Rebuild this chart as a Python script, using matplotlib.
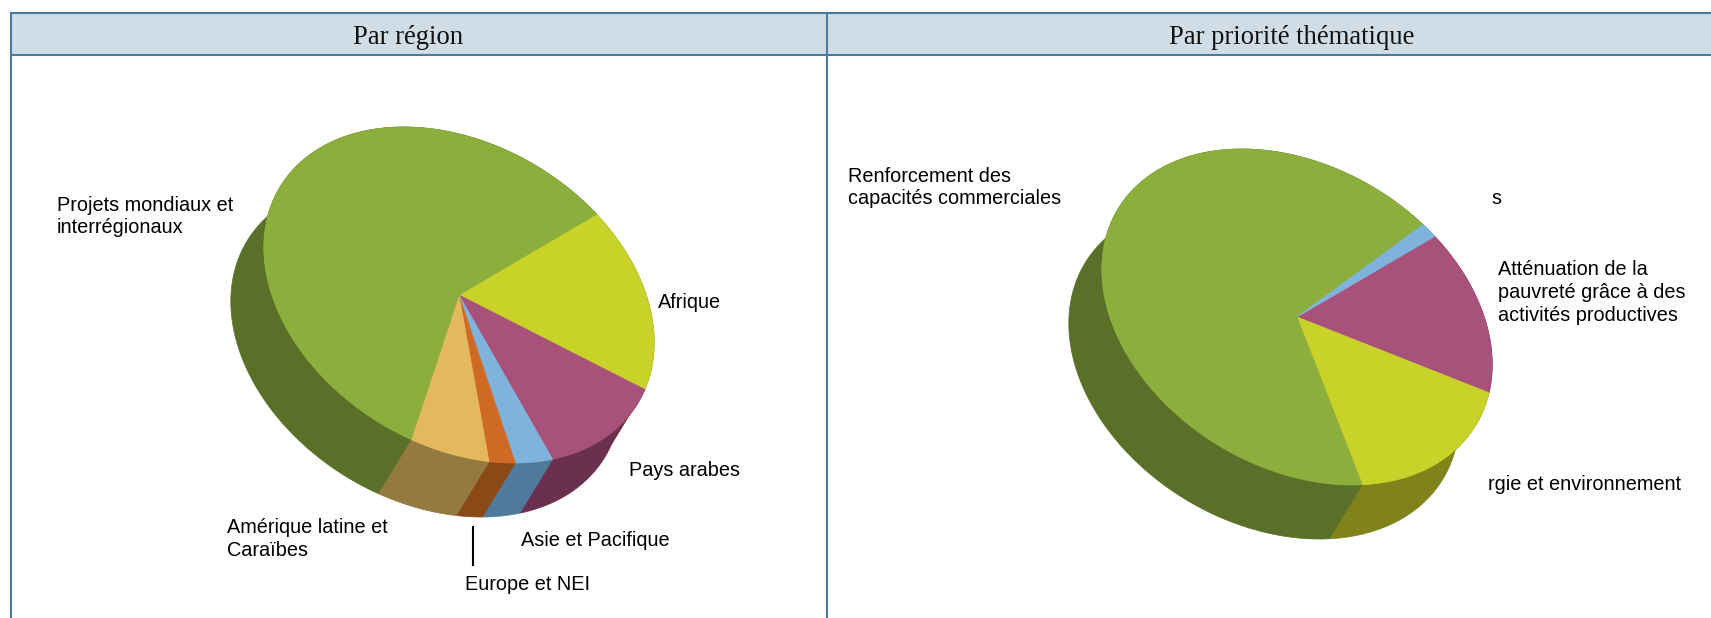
import numpy as np
import matplotlib
matplotlib.use('Agg')
import matplotlib.pyplot as plt

# shares, in clockwise order
region_names = ['Afrique', 'Pays arabes', 'Asie et Pacifique', 'Europe et NEI',
                'Amérique latine et Caraïbes', 'Projets mondiaux et interrégionaux']
region_values = [17.5, 12.1, 3.3, 2.2, 6.4, 58.5]
region_colors = ['#c8d228', '#a8517a', '#7fb3dc', '#cf6a24', '#e4b85c', '#8bae3c']
region_sides = ['#80821a', '#6b3050', '#4f7a9c', '#8a4a18', '#957a3f', '#5a7028']

theme_names = ['Atténuation de la pauvreté', 'Énergie et environnement',
               'Renforcement des capacités commerciales', 'Autres']
theme_values = [15.4, 16.7, 66.6, 1.3]
theme_colors = ['#a8517a', '#c8d228', '#8bae3c', '#7fb3dc']
theme_sides = ['#6b3050', '#80821a', '#5a7028', '#4f7a9c']

BORDER = '#4a7a9c'
HEADER = '#d1dde6'

# tilted ellipse of the top face and the shift of the lower rim, in pixels
SEMI_MAJOR = 209
SEMI_MINOR = 150.5
TILT = np.radians(31)
SHIFT = (-33, 54)


def ellipse_points(center, start, stop):
    t = np.radians(np.linspace(start, stop, max(int(abs(stop - start) * 2), 2)))
    u = SEMI_MAJOR * np.cos(t)
    v = SEMI_MINOR * np.sin(t)
    x = center[0] + u * np.cos(TILT) - v * np.sin(TILT)
    y = center[1] + u * np.sin(TILT) + v * np.cos(TILT)
    return x, y


def draw_pie(ax, center, values, colors, sides, start):
    edges = start + np.concatenate([[0], np.cumsum(values)]) / sum(values) * 360
    # side bands first, the top faces cover the ones at the back
    for i in range(len(values)):
        x, y = ellipse_points(center, edges[i], edges[i + 1])
        ax.fill(np.concatenate([x, x[::-1] + SHIFT[0]]),
                np.concatenate([y, y[::-1] + SHIFT[1]]),
                color=sides[i], lw=0.5)
    for i in range(len(values)):
        x, y = ellipse_points(center, edges[i], edges[i + 1])
        ax.fill(np.concatenate([[center[0]], x]), np.concatenate([[center[1]], y]),
                color=colors[i], lw=0.5)


fig = plt.figure(figsize=(17.11, 6.18), dpi=100)
ax = fig.add_axes([0, 0, 1, 1])
ax.set_xlim(0, 1711)
ax.set_ylim(618, 0)
ax.axis('off')

# table frame
ax.fill([11, 1711, 1711, 11], [13, 13, 55, 55], color=HEADER, lw=0)
ax.plot([11, 1711], [13, 13], color=BORDER, lw=1.5)
ax.plot([11, 1711], [55, 55], color=BORDER, lw=1.5)
ax.plot([11, 11], [13, 618], color=BORDER, lw=1.5)
ax.plot([827, 827], [13, 618], color=BORDER, lw=1.5)

ax.text(408, 37, 'Par région', family='Liberation Serif', fontsize=19.2,
        ha='center', va='center', color='#111111')
ax.text(1292, 37, 'Par priorité thématique', family='Liberation Serif', fontsize=19.2,
        ha='center', va='center', color='#111111')

draw_pie(ax, (459, 295), region_values, region_colors, region_sides, -68.6)
draw_pie(ax, (1297, 317), theme_values, theme_colors, theme_sides, -68.5)

ax.plot([473, 473], [527, 565], color='black', lw=1.5)

labels = [
    (57, 216.5, 'Projets mondiaux et\ninterrégionaux'),
    (658, 302, 'Afrique'),
    (629.5, 471, 'Pays arabes'),
    (521.5, 541, 'Asie et Pacifique'),
    (227, 539, 'Amérique latine et\nCaraïbes'),
    (465, 584, 'Europe et NEI'),
    (848, 187.5, 'Renforcement des\ncapacités commerciales'),
    (1491, 199, 's'),
    (1498, 292.5, 'Atténuation de la\npauvreté grâce à des\nactivités productives'),
    (1488, 485, 'rgie et environnement'),
]
for x, y, text in labels:
    ax.text(x, y, text, family='Liberation Sans', fontsize=14.3, ha='left',
            va='center', linespacing=1.24, color='black')

fig.savefig('out.png', dpi=100)
